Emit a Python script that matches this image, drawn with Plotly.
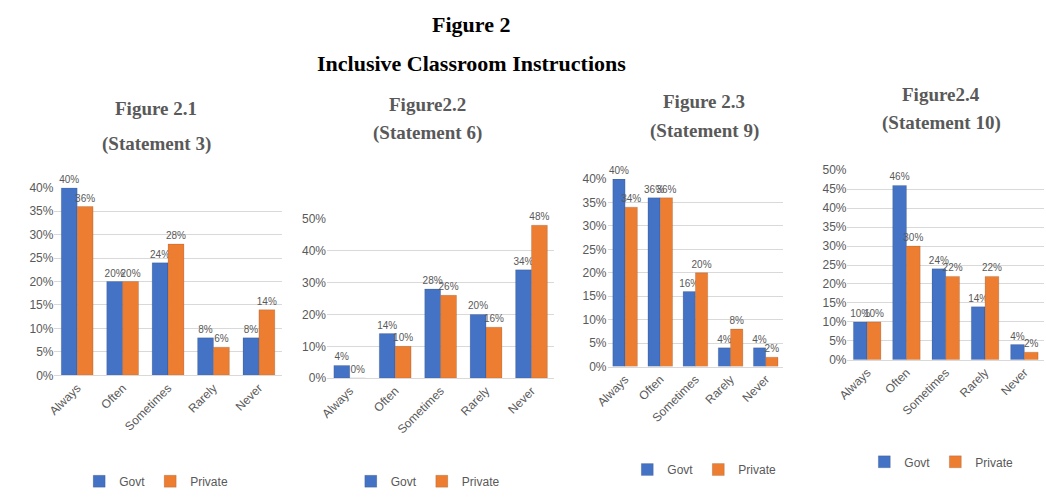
import plotly.graph_objects as go

categories = ["Always", "Often", "Sometimes", "Rarely", "Never"]

govt_21 = [40, 20, 24, 8, 8]
private_21 = [36, 20, 28, 6, 14]
govt_22 = [4, 14, 28, 20, 34]
private_22 = [0, 10, 26, 16, 48]
govt_23 = [40, 36, 16, 4, 4]
private_23 = [34, 36, 20, 8, 2]
govt_24 = [10, 46, 24, 14, 4]
private_24 = [10, 30, 22, 22, 2]

panel_title_1 = ["Figure 2.1", "Figure2.2", "Figure 2.3", "Figure2.4"]
panel_title_2 = ["(Statement 3)", "(Statement 6)", "(Statement 9)", "(Statement 10)"]
y_max = [40, 50, 40, 50]
y_step = [5, 10, 5, 5]

W, H = 1046, 497
BLUE = "#4472C4"
ORANGE = "#ED7D31"
GRAY = "#595959"
FONT = "Liberation Sans Narrow, Liberation Sans"

# pixel layout of each panel: x0, x1, y_bottom, y_top, title_x, title_y1, title_y2, legend_y
panels = [
    (42, 272, 379, 186, 145, 104, 141, 488),
    (318, 548, 382, 218, 420, 100, 130, 488),
    (602, 780, 370, 177, 700, 97, 128, 476),
    (845, 1044, 363, 168, 940, 90, 119, 468),
]

series = [
    (govt_21, private_21),
    (govt_22, private_22),
    (govt_23, private_23),
    (govt_24, private_24),
]

fig = go.Figure()
layout = {}
for i, ((g, p), (x0, x1, yb, yt, tx, ty1, ty2, ly)) in enumerate(zip(series, panels)):
    n = i + 1
    xa = "x" if n == 1 else f"x{n}"
    ya = "y" if n == 1 else f"y{n}"
    lg = "legend" if n == 1 else f"legend{n}"
    for name, vals, col in [("Govt", g, BLUE), ("Private", p, ORANGE)]:
        fig.add_trace(go.Bar(
            x=categories, y=vals, name=name, marker_color=col,
            marker_line=dict(color="rgba(0,0,0,0.25)", width=0.5),
            text=[f"{v}%" for v in vals], textposition="outside",
            textfont=dict(size=10, color=GRAY, family=FONT),
            cliponaxis=False, xaxis=xa, yaxis=ya, legend=lg,
        ))
    xk = "xaxis" if n == 1 else f"xaxis{n}"
    yk = "yaxis" if n == 1 else f"yaxis{n}"
    layout[xk] = dict(domain=[x0 / W, x1 / W], anchor=ya, tickangle=-45,
                      tickfont=dict(size=12, color=GRAY, family=FONT),
                      showline=True, linecolor="#d9d9d9", showgrid=False)
    layout[yk] = dict(domain=[1 - yb / H, 1 - yt / H], anchor=xa, range=[0, y_max[i]],
                      dtick=y_step[i], ticksuffix="%", showgrid=True, gridcolor="#d9d9d9",
                      zeroline=False,
                      tickfont=dict(size=12, color=GRAY, family=FONT))
    layout[lg] = dict(orientation="h", x=tx / W, xanchor="center", y=1 - ly / H, yanchor="middle",
                      font=dict(size=12, color=GRAY, family=FONT),
                      bgcolor="rgba(0,0,0,0)", itemwidth=30, tracegroupgap=0)
    for txt, ty in [(panel_title_1[i], ty1), (panel_title_2[i], ty2)]:
        fig.add_annotation(text=f"<b>{txt}</b>", x=tx / W, y=1 - ty / H, xref="paper", yref="paper",
                           showarrow=False, xanchor="center", yanchor="middle",
                           font=dict(size=19, color=GRAY, family="Liberation Serif"))

for txt, ty in [("Figure 2", 18), ("Inclusive Classroom Instructions", 58)]:
    fig.add_annotation(text=f"<b>{txt}</b>", x=464 / W, y=1 - ty / H,
                       xref="paper", yref="paper", showarrow=False, xanchor="center", yanchor="middle",
                       font=dict(size=22, color="black", family="Liberation Serif"))

fig.update_layout(
    width=W, height=H, margin=dict(l=0, r=0, t=0, b=0),
    paper_bgcolor="white", plot_bgcolor="white",
    barmode="group", bargap=0.3, bargroupgap=0.0,
    uniformtext=dict(minsize=10, mode="show"),
    **layout,
)
fig.write_html("out.html")
